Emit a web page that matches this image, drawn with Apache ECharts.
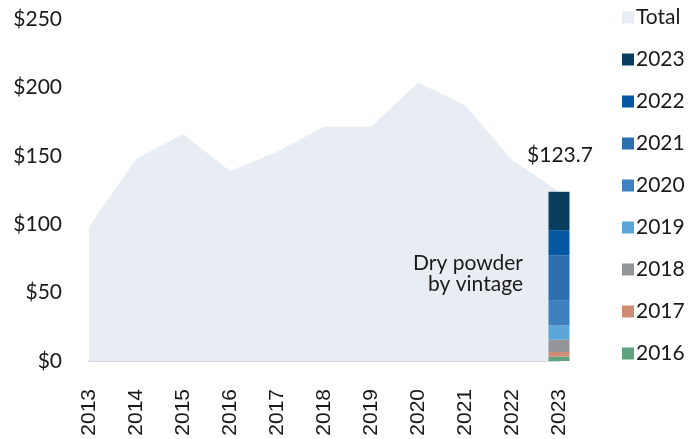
<!DOCTYPE html>
<html><head><meta charset="utf-8">
<script src="https://cdn.jsdelivr.net/npm/echarts@6/dist/echarts.min.js"></script>
<style>html,body{margin:0;padding:0;background:#fff}#c{width:700px;height:439px}</style>
</head><body><div id="c"></div>
<script>
var years = ['2013','2014','2015','2016','2017','2018','2019','2020','2021','2022','2023'];
var totalValues = [98.2, 147.7, 165.9, 138.9, 153.0, 171.3, 171.3, 203.4, 187.1, 146.9, 123.7];
var vintages = ['2016','2017','2018','2019','2020','2021','2022','2023'];
var vintageValues = [3.2, 3.4, 9.0, 10.3, 18.1, 33.0, 18.6, 28.1];
var vintageColors = ['#5fa37e','#d08b73','#939598','#5ba6d9','#3f80bf','#2d6eae','#0457a1','#083f5f'];
var yTicks = [0, 50, 100, 150, 200, 250];
var totalLabel = '$123.7';

var FONT = 'Lato, "Noto Sans", sans-serif';
var chart = echarts.init(document.getElementById('c'));
var series = [{
  name: 'Total', type: 'line', data: totalValues, symbol: 'none',
  lineStyle: {width: 0}, areaStyle: {color: '#e8edf4', opacity: 1},
  itemStyle: {color: '#e8edf4'}, z: 1, silent: true
}];
vintages.forEach(function (v, i) {
  var d = years.map(function (y) { return y === '2023' ? vintageValues[i] : null; });
  var s = {
    name: v, type: 'bar', stack: 'v', data: d, barWidth: 21,
    itemStyle: {color: vintageColors[i]}, z: 3
  };
  if (i === vintages.length - 1) {
    s.label = {show: true, position: 'top', distance: 26, offset: [1, 0], formatter: function () { return totalLabel; },
      fontFamily: FONT, fontSize: 21, color: '#1a1a1a'};
  }
  series.push(s);
});
var legendData = ['Total'].concat(vintages.slice().reverse());
chart.setOption({
  animation: false,
  legend: {
    orient: 'vertical', left: 617, top: 2, data: legendData,
    icon: 'rect', itemWidth: 12, itemHeight: 12, itemGap: 21,
    textStyle: {fontFamily: FONT, fontSize: 21, color: '#1a1a1a', lineHeight: 21, padding: [0,0,0,-3]}
  },
  grid: {left: 89, right: 141, top: 19, bottom: 78},
  xAxis: {
    type: 'category', data: years, boundaryGap: false,
    axisLine: {lineStyle: {color: '#d3d7dd', width: 2}},
    axisTick: {show: false},
    axisLabel: {rotate: 90, margin: 28, fontFamily: '"Liberation Sans", Arial, sans-serif', fontSize: 21, color: '#1a1a1a'}
  },
  yAxis: {
    type: 'value', min: 0, max: 250, interval: 50,
    splitLine: {show: false}, axisLine: {show: false}, axisTick: {show: false},
    axisLabel: {margin: 27, fontFamily: FONT, fontSize: 21, color: '#1a1a1a',
      formatter: function (v) { return '$' + v; }}
  },
  graphic: [{
    type: 'text', right: 700 - 523, top: 253, z: 10,
    style: {text: 'Dry powder\nby vintage', textAlign: 'right', fontFamily: FONT, fontSize: 21,
      lineHeight: 21, fill: '#1a1a1a'}
  }],
  series: series
});
</script></body></html>
